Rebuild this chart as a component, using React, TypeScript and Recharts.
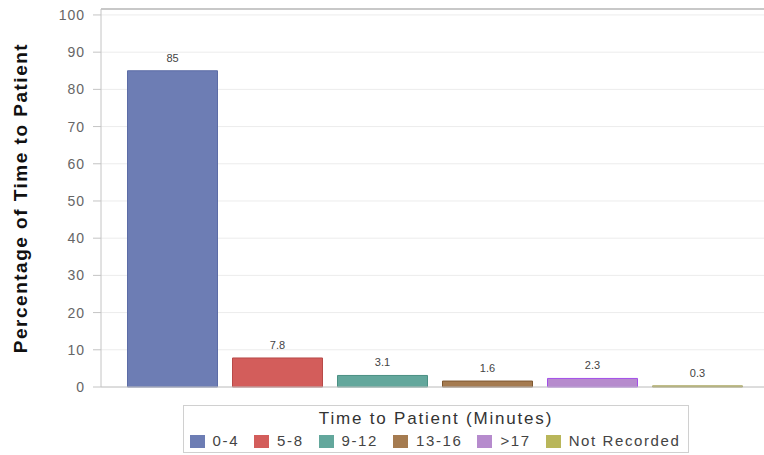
import React from 'react';
import { BarChart, Bar, XAxis, YAxis, CartesianGrid, Cell, LabelList, ReferenceLine, Label } from 'recharts';

const categories = ['0-4', '5-8', '9-12', '13-16', '>17', 'Not Recorded'];
const values = [85, 7.8, 3.1, 1.6, 2.3, 0.3];
const fills = ['#6d7db4', '#d35d5b', '#63a79c', '#a57b50', '#b68bcd', '#b9b65a'];
const strokes = ['#5c6ca6', '#b84a48', '#4a9083', '#7e5830', '#a34ee8', '#9a9640'];
const yTicks = [0, 10, 20, 30, 40, 50, 60, 70, 80, 90, 100];
const yMax = 101.6;
const yTitle = 'Percentage of Time to Patient';
const legendTitle = 'Time to Patient (Minutes)';

const data = categories.map((name, i) => ({ name, value: values[i] }));

const YTitle = (props: any) => {
  const vb = props.viewBox || { y: 9, height: 378 };
  const cx = 20;
  const cy = vb.y + vb.height / 2;
  return (
    <text
      x={cx}
      y={cy}
      transform={`rotate(-90, ${cx}, ${cy})`}
      textAnchor="middle"
      dominantBaseline="central"
      fontFamily="Liberation Sans, Arial, sans-serif"
      fontWeight="bold"
      fontSize={19}
      letterSpacing={1.5}
      fill="#111"
    >
      {yTitle}
    </text>
  );
};

const BarValueLabel = (props: any) => {
  const { x, y, width, value } = props;
  return (
    <text
      x={x + width / 2}
      y={y - 9}
      textAnchor="middle"
      fill="#444"
      fontSize={11}
      fontFamily="Liberation Sans, Arial, sans-serif"
    >
      {value}
    </text>
  );
};

export default function App() {
  return (
    <div style={{ position: 'absolute', left: 0, top: 0, width: 764, height: 455, background: '#fff', fontFamily: 'Liberation Sans, Arial, sans-serif' }}>
      <BarChart width={764} height={455} data={data} margin={{ top: 9, right: 0, left: 0, bottom: 67 }} barCategoryGap={7.5}>
        <CartesianGrid vertical={false} stroke="#ececec" />
        <XAxis
          dataKey="name"
          tick={false}
          tickLine={false}
          height={1}
          axisLine={{ stroke: '#c4c4c4' }}
          padding={{ left: 19, right: 14 }}
        />
        <YAxis
          width={101}
          domain={[0, yMax]}
          ticks={yTicks}
          interval={0}
          tickSize={8}
          tickMargin={8}
          axisLine={{ stroke: '#c4c4c4' }}
          tickLine={{ stroke: '#c4c4c4' }}
          tick={{ fill: '#666', fontSize: 14, letterSpacing: 1, fontFamily: 'Liberation Sans, Arial, sans-serif' }}
        >
          <Label content={<YTitle />} />
        </YAxis>
        <ReferenceLine y={yMax} stroke="#b8b8b8" strokeWidth={1.5} />
        <Bar dataKey="value" isAnimationActive={false}>
          {data.map((d, i) => (
            <Cell key={d.name} fill={fills[i]} stroke={strokes[i]} strokeWidth={1} />
          ))}
          <LabelList dataKey="value" content={<BarValueLabel />} />
        </Bar>
      </BarChart>
      <div
        style={{
          position: 'absolute',
          left: 183,
          top: 405,
          width: 504,
          height: 46,
          border: '1px solid #d0d0d0',
          boxSizing: 'content-box',
        }}
      >
        <div style={{ textAlign: 'center', fontSize: 17, letterSpacing: 1.8, color: '#333', lineHeight: '20px', marginTop: 3 }}>
          {legendTitle}
        </div>
        <div style={{ display: 'flex', justifyContent: 'center', gap: 15, marginTop: 3, marginLeft: -2 }}>
          {categories.map((c, i) => (
            <div key={c} style={{ display: 'flex', alignItems: 'center', gap: 8 }}>
              <div style={{ width: 15, height: 13, background: fills[i], border: `1px solid ${fills[i]}`, boxSizing: 'border-box' }} />
              <span style={{ fontSize: 15, letterSpacing: 1.6, color: '#444', lineHeight: '18px' }}>{c}</span>
            </div>
          ))}
        </div>
      </div>
    </div>
  );
}
